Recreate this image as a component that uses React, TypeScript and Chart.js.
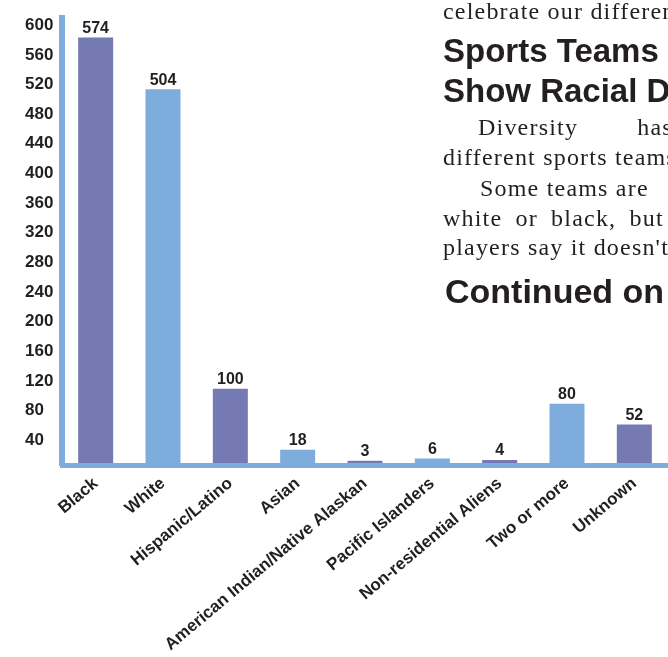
import React, { useEffect, useRef } from "react";
import { Chart, registerables } from "chart.js";

Chart.register(...registerables);

const categories = [
  "Black",
  "White",
  "Hispanic/Latino",
  "Asian",
  "American Indian/Native Alaskan",
  "Pacific Islanders",
  "Non-residential Aliens",
  "Two or more",
  "Unknown",
];
const values = [574, 504, 100, 18, 3, 6, 4, 80, 52];
const barColors = [
  "#757bb2",
  "#7eaddd",
  "#757bb2",
  "#7eaddd",
  "#757bb2",
  "#7eaddd",
  "#757bb2",
  "#7eaddd",
  "#757bb2",
];
const yMin = -3.4;
const yMax = 600;
const yStep = 40;

const AXIS_COLOR = "#7eaddd";
const TEXT_COLOR = "#231f20";
const SANS = '"Liberation Sans", Arial, Helvetica, sans-serif';
const SERIF = '"Liberation Serif", "Times New Roman", serif';

const valueLabels = {
  id: "valueLabels",
  afterDatasetsDraw(chart: any) {
    const ctx = chart.ctx;
    const meta = chart.getDatasetMeta(0);
    ctx.save();
    ctx.font = `bold 16px ${SANS}`;
    ctx.fillStyle = TEXT_COLOR;
    ctx.textAlign = "center";
    ctx.textBaseline = "bottom";
    meta.data.forEach((el: any, i: number) => {
      ctx.fillText(String(values[i]), el.x, el.y - 1);
    });
    ctx.restore();
  },
};

const serifLines = [
  { text: "celebrate our differences.", left: 443, top: -1, ws: 0 },
  { text: "Diversity has", left: 478, top: 115, ws: 52 },
  { text: "different sports teams", left: 443, top: 145, ws: 0 },
  { text: "Some teams are", left: 480, top: 176, ws: 0 },
  { text: "white or black, but", left: 443, top: 206, ws: 6 },
  { text: "players say it doesn't", left: 443, top: 235, ws: 0 },
];
const sansLines = [
  { text: "Sports Teams", left: 443, top: 34, size: 33 },
  { text: "Show Racial Diversity", left: 443, top: 74, size: 33 },
  { text: "Continued on", left: 445, top: 274, size: 34 },
];

export default function App() {
  const canvasRef = useRef<HTMLCanvasElement | null>(null);

  useEffect(() => {
    if (!canvasRef.current) return;
    const chart = new Chart(canvasRef.current, {
      type: "bar",
      data: {
        labels: categories,
        datasets: [
          {
            data: values,
            backgroundColor: barColors,
            borderWidth: 0,
            barPercentage: 0.52,
            categoryPercentage: 1,
          },
        ],
      },
      plugins: [valueLabels],
      options: {
        animation: false,
        responsive: false,
        devicePixelRatio: 1,
        layout: { padding: { left: 25, top: 9, right: 0, bottom: 0 } },
        plugins: {
          legend: { display: false },
          tooltip: { enabled: false },
          title: { display: false },
        },
        scales: {
          x: {
            grid: { display: false, drawTicks: false },
            border: { display: true, color: AXIS_COLOR, width: 5, z: 1 },
            ticks: {
              color: TEXT_COLOR,
              font: { family: SANS, size: 17, weight: "bold" },
              minRotation: 40,
              maxRotation: 40,
              autoSkip: false,
              padding: 8,
            },
            afterFit: (scale: any) => {
              scale.height = 191.5;
            },
          },
          y: {
            min: yMin,
            max: yMax,
            grid: { display: false, drawTicks: false },
            border: { display: true, color: AXIS_COLOR, width: 6 },
            ticks: {
              stepSize: yStep,
              color: TEXT_COLOR,
              font: { family: SANS, size: 17, weight: "bold" },
              crossAlign: "far",
              labelOffset: 7,
              padding: 8,
              callback: (v: any) => (Number(v) <= 0 ? "" : String(v)),
            },
            afterFit: (scale: any) => {
              scale.width = 37;
            },
          },
        },
      } as any,
    });
    return () => chart.destroy();
  }, []);

  return (
    <div
      style={{
        position: "fixed",
        left: 0,
        top: 0,
        width: 668,
        height: 657,
        overflow: "hidden",
        background: "#ffffff",
      }}
    >
      <canvas
        ref={canvasRef}
        width={668}
        height={657}
        style={{ display: "block", width: 668, height: 657 }}
      />
      {serifLines.map((l, i) => (
        <div
          key={"s" + i}
          style={{
            position: "absolute",
            left: l.left,
            top: l.top,
            fontFamily: SERIF,
            fontSize: 24,
            lineHeight: "24px",
            letterSpacing: "1.2px",
            wordSpacing: l.ws + "px",
            whiteSpace: "nowrap",
            color: TEXT_COLOR,
          }}
        >
          {l.text}
        </div>
      ))}
      {sansLines.map((l, i) => (
        <div
          key={"h" + i}
          style={{
            position: "absolute",
            left: l.left,
            top: l.top,
            fontFamily: SANS,
            fontWeight: "bold",
            fontSize: l.size,
            lineHeight: l.size + "px",
            whiteSpace: "nowrap",
            color: TEXT_COLOR,
          }}
        >
          {l.text}
        </div>
      ))}
    </div>
  );
}
